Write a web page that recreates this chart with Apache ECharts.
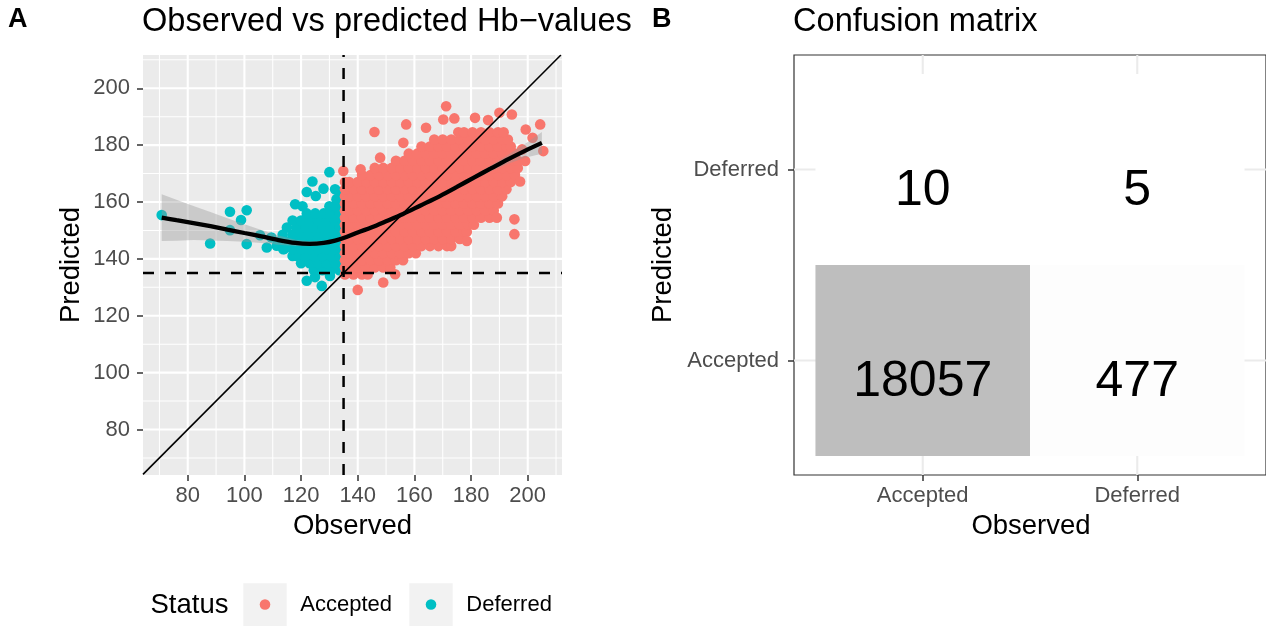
<!DOCTYPE html>
<html>
<head>
<meta charset="utf-8">
<script src="https://cdn.jsdelivr.net/npm/echarts@6/dist/echarts.min.js"></script>
<style>
  html, body { margin: 0; padding: 0; background: #ffffff; }
  #chart { width: 1266px; height: 626px; }
</style>
</head>
<body>
<div id="chart"></div>
<script>
const FONT = '"Liberation Sans", Arial, Helvetica, sans-serif';

// ---------- Panel A: observed vs predicted Hb ----------
const cutoff = 135;                       // deferral threshold (g/L)
const xRange = [64.2, 212.1];
const yRange = [64, 211.7];
const majorTicks = [80, 100, 120, 140, 160, 180, 200];
const minorTicks = [70, 90, 110, 130, 150, 170, 190, 210];

// Dense part of the accepted cloud, one row per predicted value:
// [predicted, observed, observed, ...]
const acceptedRows = [
  [134.5, 135.5, 138.5, 141.5, 143.5],
  [137, 135.5, 137, 140, 143, 146, 149, 151.5],
  [139.5, 135.5, 138.5, 141.5, 144.5, 147.5, 150.5, 153.5, 156],
  [142, 135.5, 137, 140, 143, 146, 149, 152, 155, 158, 160.5],
  [144.5, 135.5, 138.5, 141.5, 144.5, 147.5, 150.5, 153.5, 156.5, 159.5, 162.5, 165.5, 168.5, 171.5, 173],
  [147, 135.5, 137, 140, 143, 146, 149, 152, 155, 158, 161, 164, 167, 170, 173, 176],
  [149.5, 135.5, 138.5, 141.5, 144.5, 147.5, 150.5, 153.5, 156.5, 159.5, 162.5, 165.5, 168.5, 171.5, 174.5, 177.5, 178.5],
  [152, 135.5, 137, 140, 143, 146, 149, 152, 155, 158, 161, 164, 167, 170, 173, 176, 179, 181],
  [154.5, 135.5, 138.5, 141.5, 144.5, 147.5, 150.5, 153.5, 156.5, 159.5, 162.5, 165.5, 168.5, 171.5, 174.5, 177.5, 180.5, 183.5, 186.5],
  [157, 135.5, 137, 140, 143, 146, 149, 152, 155, 158, 161, 164, 167, 170, 173, 176, 179, 182, 185, 188],
  [159.5, 135.5, 138.5, 141.5, 144.5, 147.5, 150.5, 153.5, 156.5, 159.5, 162.5, 165.5, 168.5, 171.5, 174.5, 177.5, 180.5, 183.5, 186.5, 189.5],
  [162, 135.5, 137, 140, 143, 146, 149, 152, 155, 158, 161, 164, 167, 170, 173, 176, 179, 182, 185, 188, 191],
  [164.5, 135.5, 138.5, 141.5, 144.5, 147.5, 150.5, 153.5, 156.5, 159.5, 162.5, 165.5, 168.5, 171.5, 174.5, 177.5, 180.5, 183.5, 186.5, 189.5, 192.5],
  [167, 135.5, 137, 140, 143, 146, 149, 152, 155, 158, 161, 164, 167, 170, 173, 176, 179, 182, 185, 188, 191, 194],
  [169.5, 141.5, 144.5, 147.5, 150.5, 153.5, 156.5, 159.5, 162.5, 165.5, 168.5, 171.5, 174.5, 177.5, 180.5, 183.5, 186.5, 189.5, 192.5, 195.5],
  [172, 146, 149, 152, 155, 158, 161, 164, 167, 170, 173, 176, 179, 182, 185, 188, 191, 194, 196.5],
  [174.5, 153.5, 156.5, 159.5, 162.5, 165.5, 168.5, 171.5, 174.5, 177.5, 180.5, 183.5, 186.5, 189.5, 192.5, 195.5, 196.5],
  [177, 158, 161, 164, 167, 170, 173, 176, 179, 182, 185, 188, 191, 194, 195.5],
  [179.5, 162.5, 165.5, 168.5, 171.5, 174.5, 177.5, 180.5, 183.5, 186.5, 189.5, 192.5, 194],
  [182, 167, 170, 173, 176, 179, 182, 185, 188, 191, 193],
  [184.5, 175.5, 177.5, 180.5, 183.5, 186.5, 189.5, 191.5]
];
// Scattered accepted donors outside the dense cloud: [observed, predicted]
const acceptedSingles = [
  [134.9, 170.9], [141, 171.5], [145.9, 184.6], [147.9, 175.6], [156.1, 180.8], [157.1, 187.3],
  [164.1, 186.1], [170.2, 189], [171.2, 193.7], [174.1, 189.4], [181.4, 189.6], [186, 188.8],
  [190, 191.4], [194.4, 190.8], [199.3, 185.5], [201.7, 182.6], [204.4, 187.3], [205.5, 177.9],
  [198, 178.5], [199.1, 174.4], [197.3, 167.2], [195.3, 153.9], [195.3, 148.7], [189.1, 154.5],
  [178.5, 146.3], [153.2, 134.6], [149, 131.7], [140, 129.1]
];

// Dense part of the deferred cloud: [predicted, observed, observed, ...]
const deferredRows = [
  [136, 124.5, 127.5, 130.5, 133.5],
  [138.5, 120, 123, 126, 129, 132, 134.5],
  [141, 117, 118.5, 121.5, 124.5, 127.5, 130.5, 133.5],
  [143.5, 114, 117, 120, 123, 126, 129, 132, 134.5],
  [146, 112, 115.5, 118.5, 121.5, 124.5, 127.5, 130.5, 133.5],
  [148.5, 113.5, 117, 120, 123, 126, 129, 132, 134.5],
  [151, 115, 118.5, 121.5, 124.5, 127.5, 130.5, 133.5],
  [153.5, 117, 120, 123, 126, 129, 132, 134.5],
  [156, 122, 125, 128, 130.5, 133.5],
  [158.5, 130, 132, 134.5],
  [161, 132.5, 134.5]
];
const deferredSingles = [
  [70.8, 155.4], [87.9, 145.4], [94.9, 156.6], [100.8, 157.1], [98.8, 153.7], [94.9, 150.1],
  [100.8, 145.2], [105.5, 148.3], [107.9, 144], [111.4, 144.6], [113.7, 143.4], [109.5, 147.5],
  [117.9, 159.2], [120.5, 158.5], [122, 163.5], [124, 167.2], [125.2, 162.1], [127.9, 164.7],
  [130, 170.5], [132, 164.5], [133.5, 163.5], [122, 132.3], [127.3, 130.5], [124.9, 133.6], [130.2, 134]
];

// Loess fit with its standard-error half-width
const smoothX  = [70.8, 76, 82, 88, 94, 100, 106, 112, 118, 123, 128, 132, 136, 140, 145, 150, 156, 162, 169, 175, 181, 187, 193, 199, 205];
const smoothY  = [154.5, 153.6, 152.6, 151.5, 150.3, 149.1, 147.9, 146.6, 145.6, 145.3, 145.6, 146.4, 147.7, 149.3, 151.1, 153.2, 155.8, 158.7, 162.1, 165.3, 168.6, 171.8, 175.0, 178.0, 180.8];
const smoothSE = [8.2, 7.2, 6.0, 5.0, 4.0, 3.1, 2.3, 1.6, 1.1, 0.9, 0.8, 0.7, 0.7, 0.7, 0.7, 0.7, 0.7, 0.7, 0.7, 0.7, 0.8, 1.0, 1.5, 2.4, 3.8];

// Legend entries
const statusNames  = ['Accepted', 'Deferred'];
const statusColors = ['#F8766D', '#00BFC4'];

// ---------- Panel B: confusion matrix ----------
const classes = ['Accepted', 'Deferred'];
const cmObserved  = ['Accepted', 'Deferred', 'Accepted', 'Deferred'];
const cmPredicted = ['Accepted', 'Accepted', 'Deferred', 'Deferred'];
const cmCount     = [18057, 477, 10, 5];
const cmRange = [0.4, 2.6];
const cmTicks = [1, 2];

// ---------- build series data ----------
function rowsToPoints(rows) {
  const pts = [];
  rows.forEach(function (r) {
    for (let i = 1; i < r.length; i++) pts.push([r[i], r[0]]);
  });
  return pts;
}
const acceptedPts = rowsToPoints(acceptedRows).concat(acceptedSingles);
const deferredPts = rowsToPoints(deferredRows).concat(deferredSingles);
const smoothPts = smoothX.map(function (x, i) { return [x, smoothY[i]]; });

const gridLinesA = [];
minorTicks.forEach(function (v) { gridLinesA.push([0, v, 0]); gridLinesA.push([1, v, 0]); });
majorTicks.forEach(function (v) { gridLinesA.push([0, v, 1]); gridLinesA.push([1, v, 1]); });

const gridLinesB = [];
cmTicks.forEach(function (v) { gridLinesB.push([0, v]); gridLinesB.push([1, v]); });

const tiles = cmCount.map(function (n, i) {
  return [classes.indexOf(cmObserved[i]) + 1, classes.indexOf(cmPredicted[i]) + 1, n];
});

const diagLo = Math.max(xRange[0], yRange[0]);
const diagHi = Math.min(xRange[1], yRange[1]);

const chart = echarts.init(document.getElementById('chart'), null, { renderer: 'canvas' });

const tickLabel = { fontFamily: FONT, fontSize: 22, color: '#4D4D4D' };

function plainText(text, x, y, size, opts) {
  opts = opts || {};
  return {
    type: 'text', x: x, y: y, rotation: opts.rotate ? Math.PI / 2 : 0, silent: true, z: 10,
    style: { text: text, fontFamily: FONT, fontSize: size, fontWeight: opts.bold ? 'bold' : 'normal',
             fill: '#000000', align: opts.align || 'center', verticalAlign: 'middle',
             textAlign: opts.align || 'center', textVerticalAlign: 'middle' }
  };
}

// Legend: title, grey key boxes, coloured keys and labels
const legendKeyX = [243.3, 409.3];
const legendGraphics = [plainText('Status', 150.5, 605, 27.5, { align: 'left' })];
statusNames.forEach(function (name, i) {
  legendGraphics.push({ type: 'rect', silent: true, z: 5,
    shape: { x: legendKeyX[i], y: 583.3, width: 43.4, height: 43.4 }, style: { fill: '#F2F2F2' } });
  legendGraphics.push({ type: 'circle', silent: true, z: 6,
    shape: { cx: legendKeyX[i] + 21.7, cy: 604.5, r: 5.3 }, style: { fill: statusColors[i] } });
  legendGraphics.push(plainText(name, legendKeyX[i] + 57, 605, 22, { align: 'left' }));
});

const option = {
  animation: false,
  backgroundColor: '#ffffff',
  title: [
    { text: 'Observed vs predicted Hb\u2212values', left: 142, top: 6, padding: 0,
      textStyle: { fontFamily: FONT, fontSize: 32.6, fontWeight: 'normal', color: '#000000' } },
    { text: 'Confusion matrix', left: 793, top: 6, padding: 0,
      textStyle: { fontFamily: FONT, fontSize: 32.6, fontWeight: 'normal', color: '#000000' } }
  ],
  grid: [
    { left: 143, top: 55, width: 419, height: 420, show: true, backgroundColor: '#EBEBEB', borderWidth: 0, containLabel: false },
    { left: 794, top: 55, width: 474, height: 420, show: true, backgroundColor: '#FFFFFF', borderColor: '#333333', borderWidth: 1.2, containLabel: false }
  ],
  xAxis: [
    { type: 'value', gridIndex: 0, min: xRange[0], max: xRange[1],
      axisLine: { show: false }, splitLine: { show: false },
      axisTick: { show: true, length: 6, customValues: majorTicks, lineStyle: { color: '#333333', width: 1.5 } },
      axisLabel: Object.assign({ customValues: majorTicks, margin: 10 }, tickLabel) },
    { type: 'value', gridIndex: 1, min: cmRange[0], max: cmRange[1],
      axisLine: { show: false }, splitLine: { show: false },
      axisTick: { show: true, length: 6, customValues: cmTicks, lineStyle: { color: '#333333', width: 1.5 } },
      axisLabel: Object.assign({ customValues: cmTicks, margin: 10,
        formatter: function (v) { return classes[Math.round(v) - 1]; } }, tickLabel) }
  ],
  yAxis: [
    { type: 'value', gridIndex: 0, min: yRange[0], max: yRange[1],
      axisLine: { show: false }, splitLine: { show: false },
      axisTick: { show: true, length: 6, customValues: majorTicks, lineStyle: { color: '#333333', width: 1.5 } },
      axisLabel: Object.assign({ customValues: majorTicks, margin: 13 }, tickLabel) },
    { type: 'value', gridIndex: 1, min: cmRange[0], max: cmRange[1],
      axisLine: { show: false }, splitLine: { show: false },
      axisTick: { show: true, length: 6, customValues: cmTicks, lineStyle: { color: '#333333', width: 1.5 } },
      axisLabel: Object.assign({ customValues: cmTicks, margin: 15,
        formatter: function (v) { return classes[Math.round(v) - 1]; } }, tickLabel) }
  ],
  visualMap: {
    type: 'continuous', show: false, seriesIndex: 9, dimension: 2,
    min: Math.min.apply(null, cmCount), max: Math.max.apply(null, cmCount),
    inRange: { color: ['#FFFFFF', '#BEBEBE'] }
  },
  series: [
    // 0: panel A grid lines
    { type: 'custom', xAxisIndex: 0, yAxisIndex: 0, silent: true, z: 1, clip: true,
      data: gridLinesA,
      renderItem: function (params, api) {
        const dir = api.value(0), v = api.value(1), major = api.value(2);
        const p1 = dir === 0 ? api.coord([v, yRange[0]]) : api.coord([xRange[0], v]);
        const p2 = dir === 0 ? api.coord([v, yRange[1]]) : api.coord([xRange[1], v]);
        return { type: 'line', shape: { x1: p1[0], y1: p1[1], x2: p2[0], y2: p2[1] },
                 style: { stroke: '#FFFFFF', lineWidth: major ? 2.1 : 1.05 } };
      } },
    // 1: deferred donors
    { name: statusNames[1], type: 'scatter', xAxisIndex: 0, yAxisIndex: 0, z: 2, silent: true,
      symbol: 'circle', symbolSize: 10.6, itemStyle: { color: statusColors[1], opacity: 1 }, data: deferredPts },
    // 2: accepted donors
    { name: statusNames[0], type: 'scatter', xAxisIndex: 0, yAxisIndex: 0, z: 2, silent: true,
      symbol: 'circle', symbolSize: 10.6, itemStyle: { color: statusColors[0], opacity: 1 }, data: acceptedPts },
    // 3: loess confidence band
    { type: 'custom', xAxisIndex: 0, yAxisIndex: 0, silent: true, z: 3, clip: true,
      data: [[smoothX[0], smoothY[0]]],
      renderItem: function (params, api) {
        const upper = smoothX.map(function (x, i) { return api.coord([x, smoothY[i] + smoothSE[i]]); });
        const lower = smoothX.map(function (x, i) { return api.coord([x, smoothY[i] - smoothSE[i]]); }).reverse();
        return { type: 'polygon', shape: { points: upper.concat(lower) },
                 style: { fill: 'rgba(153,153,153,0.4)' } };
      } },
    // 4: loess fit
    { type: 'line', xAxisIndex: 0, yAxisIndex: 0, silent: true, z: 4, data: smoothPts,
      smooth: 0.3, showSymbol: false, symbol: 'none',
      lineStyle: { color: '#000000', width: 4.3, cap: 'butt' } },
    // 5: identity line
    { type: 'line', xAxisIndex: 0, yAxisIndex: 0, silent: true, z: 4, showSymbol: false, symbol: 'none',
      data: [[diagLo, diagLo], [diagHi, diagHi]],
      lineStyle: { color: '#000000', width: 1.6 } },
    // 6: threshold on observed
    { type: 'line', xAxisIndex: 0, yAxisIndex: 0, silent: true, z: 4, showSymbol: false, symbol: 'none',
      data: [[cutoff, yRange[0]], [cutoff, yRange[1]]],
      lineStyle: { color: '#000000', width: 2.5, type: [11, 11] } },
    // 7: threshold on predicted
    { type: 'line', xAxisIndex: 0, yAxisIndex: 0, silent: true, z: 4, showSymbol: false, symbol: 'none',
      data: [[xRange[0], cutoff], [xRange[1], cutoff]],
      lineStyle: { color: '#000000', width: 2.5, type: [11, 11] } },
    // 8: panel B grid lines
    { type: 'custom', xAxisIndex: 1, yAxisIndex: 1, silent: true, z: 1,
      data: gridLinesB,
      renderItem: function (params, api) {
        const dir = api.value(0), v = api.value(1);
        const p1 = dir === 0 ? api.coord([v, cmRange[0]]) : api.coord([cmRange[0], v]);
        const p2 = dir === 0 ? api.coord([v, cmRange[1]]) : api.coord([cmRange[1], v]);
        return { type: 'line', shape: { x1: p1[0], y1: p1[1], x2: p2[0], y2: p2[1] },
                 style: { stroke: '#EBEBEB', lineWidth: 2.1 } };
      } },
    // 9: confusion matrix tiles with counts
    { type: 'custom', xAxisIndex: 1, yAxisIndex: 1, silent: true, z: 2,
      data: tiles,
      renderItem: function (params, api) {
        const c = api.coord([api.value(0), api.value(1)]);
        const s = api.size([1, 1]);
        return { type: 'group', children: [
          { type: 'rect', shape: { x: c[0] - s[0] / 2, y: c[1] - s[1] / 2, width: s[0], height: s[1] },
            style: { fill: api.visual('color') } },
          { type: 'text', x: c[0], y: c[1] + 22,
            style: { text: String(api.value(2)), fontFamily: FONT, fontSize: 50, fill: '#000000',
                     align: 'center', verticalAlign: 'middle' } }
        ] };
      } }
  ],
  graphic: [
    plainText('A', 8, 20, 27, { align: 'left', bold: true }),
    plainText('B', 652, 20, 27, { align: 'left', bold: true }),
    plainText('Observed', 352.5, 526, 27.5),
    plainText('Predicted', 71, 265, 27.5, { rotate: true }),
    plainText('Observed', 1031, 526, 27.5),
    plainText('Predicted', 663, 265, 27.5, { rotate: true })
  ].concat(legendGraphics)
};

chart.setOption(option);
</script>
</body>
</html>
